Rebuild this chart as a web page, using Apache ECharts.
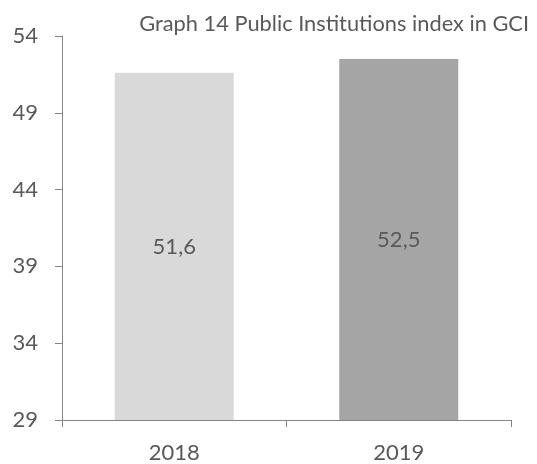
<!DOCTYPE html>
<html>
<head>
<meta charset="utf-8">
<script src="https://cdn.jsdelivr.net/npm/echarts@6/dist/echarts.min.js"></script>
<style>
  html, body { margin: 0; padding: 0; background: #fff; }
  #chart { width: 537px; height: 464px; }
</style>
</head>
<body>
<div id="chart"></div>
<script>
const years = ['2018', '2019']
const scores = [51.6, 52.5]
const barColors = ['#d9d9d9', '#a5a5a5']
const yTicks = [29, 34, 39, 44, 49, 54]

const font = 'Lato, "Open Sans", sans-serif'
const textColor = '#595959'
const axisColor = '#868686'

const chart = echarts.init(document.getElementById('chart'))
chart.setOption({
    animation: false,
    title: {
        text: 'Graph 14 Public Institutions index in GCI',
        right: 3,
        top: 8,
        textStyle: { fontFamily: font, fontSize: 21.8, fontWeight: 'normal', color: textColor }
    },
    grid: { left: 62, right: 26, top: 36, bottom: 44 },
    xAxis: {
        type: 'category',
        data: years,
        axisLine: { lineStyle: { color: axisColor, width: 1 } },
        axisTick: { show: true, length: 7, lineStyle: { color: axisColor } },
        axisLabel: { fontFamily: font, fontSize: 22, color: textColor, margin: 22 }
    },
    yAxis: {
        type: 'value',
        min: 29,
        max: 54,
        axisLine: { show: true, lineStyle: { color: axisColor, width: 1 } },
        axisTick: { show: true, length: 7, customValues: yTicks, lineStyle: { color: axisColor } },
        axisLabel: { fontFamily: font, fontSize: 22, color: textColor, margin: 24, customValues: yTicks },
        splitLine: { show: false }
    },
    series: [{
        type: 'bar',
        barWidth: '53%',
        data: scores.map((v, i) => ({ value: v, itemStyle: { color: barColors[i] } })),
        label: {
            show: true,
            position: 'inside',
            fontFamily: font,
            fontSize: 22,
            color: textColor,
            formatter: p => String(p.value).replace('.', ',')
        }
    }]
})
</script>
</body>
</html>
